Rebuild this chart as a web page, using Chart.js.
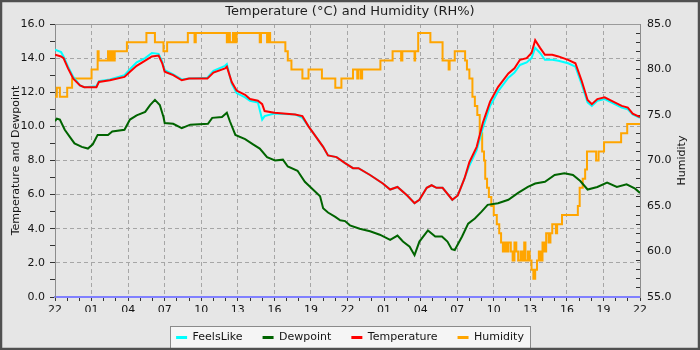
<!DOCTYPE html>
<html>
<head>
<meta charset="utf-8">
<script src="https://cdn.jsdelivr.net/npm/chart.js@4.4.1/dist/chart.umd.min.js"></script>
<style>
  html, body { margin: 0; padding: 0; background: #e6e6e6; }
</style>
</head>
<body>
<canvas id="weatherChart" width="700" height="350"></canvas>
<script>
// x positions are hours since 22:00 on the first day (48 h shown)
const hourLabels = ['22', '01', '04', '07', '10', '13', '16', '19', '22', '01', '04', '07', '10', '13', '16', '19', '22'];
const legendOrder = ['FeelsLike', 'Dewpoint', 'Temperature', 'Humidity'];

const tempHours = [0, 0.5, 0.7, 1.07, 1.5,
  2.05, 2.4, 3.4, 3.6, 4.5,
  5.7, 6.15, 6.7, 7.4, 7.95,
  8.5, 8.8, 9.0, 9.7, 10.4,
  11.0, 12.5, 13.0, 13.95, 14.1,
  14.5, 14.9, 15.6, 16.0, 16.65,
  17.0, 17.2, 18.0, 19.7, 20.3, 20.8,
  21.3, 22.0, 22.4, 23.1, 23.8,
  24.45, 24.9, 25.85, 26.9, 27.5,
  28.1, 28.9, 29.5, 29.9, 30.5,
  30.9, 31.3, 31.8, 32.6, 33.05,
  33.6, 34.0, 34.6, 35.1, 35.7,
  36.35, 37.2, 37.7, 38.15, 38.7,
  39.1, 39.4, 39.8, 40.2, 40.8,
  41.3, 42.1, 42.7, 43.2, 43.7,
  44.05, 44.5, 45.1, 45.8, 46.5,
  47.0, 47.4, 48.0];

const tempValues = [14.2, 14.1, 14.0, 13.4, 12.8,
  12.4, 12.3, 12.3, 12.6, 12.7,
  12.9, 13.2, 13.55, 13.85, 14.1,
  14.15, 13.7, 13.2, 13.0, 12.7,
  12.8, 12.8, 13.15, 13.4, 13.5,
  12.6, 12.1, 11.85, 11.6, 11.5,
  11.3, 10.9, 10.8, 10.7, 10.6, 10.0,
  9.5, 8.8, 8.3, 8.2, 7.85,
  7.55, 7.55, 7.15, 6.65, 6.3,
  6.45, 5.95, 5.5, 5.7, 6.4,
  6.55, 6.4, 6.4, 5.7, 5.95,
  6.95, 7.9, 8.8, 10.2, 11.45,
  12.3, 13.1, 13.4, 13.9, 14.0,
  14.3, 15.05, 14.6, 14.2, 14.2,
  14.1, 13.9, 13.7, 12.7, 11.55,
  11.3, 11.6, 11.7, 11.45, 11.2,
  11.1, 10.75, 10.55];

const feelsValues = [14.5, 14.35, 14.1, 13.5, 12.9,
  12.4, 12.3, 12.35, 12.65, 12.75,
  13.0, 13.35, 13.75, 14.0, 14.3,
  14.25, 13.8, 13.3, 13.05, 12.75,
  12.8, 12.85, 13.25, 13.55, 13.65,
  12.5, 11.95, 11.7, 11.5, 11.4,
  10.4, 10.6, 10.75, 10.7, 10.5, 10.0,
  9.5, 8.8, 8.3, 8.2, 7.85,
  7.55, 7.55, 7.15, 6.65, 6.3,
  6.45, 5.95, 5.5, 5.7, 6.4,
  6.55, 6.4, 6.4, 5.7, 5.95,
  6.95, 7.7, 8.6, 9.9, 11.2,
  12.05, 12.85, 13.15, 13.6, 13.75,
  14.0, 14.6, 14.3, 13.9, 13.9,
  13.85, 13.7, 13.5, 12.5, 11.4,
  11.2, 11.5, 11.6, 11.35, 11.1,
  11.0, 10.7, 10.5];

const dewHours = [0, 0.15, 0.4, 0.8, 1.2, 1.6, 2.2, 2.7, 3.1, 3.5,
  4.35, 4.7, 5.7, 6.15, 6.7, 7.4, 7.8, 8.2, 8.6, 8.9,
  9.0, 9.7, 10.4, 11.1, 12.55, 12.9, 13.7, 14.1, 14.35, 14.8,
  15.6, 16.25, 16.8, 17.4, 18.05, 18.7, 19.1, 19.9, 20.5, 21.1,
  21.75, 22.0, 22.4, 23.0, 23.4, 23.8, 24.2, 25.0, 25.85, 26.65,
  27.5, 28.1, 28.55, 29.1, 29.5, 29.9, 30.6, 31.2, 31.75, 32.2,
  32.55, 32.8, 33.4, 33.9, 34.45, 35.0, 35.5, 36.35, 37.2, 38.0,
  38.8, 39.4, 40.2, 41.0, 41.8, 42.5, 43.1, 43.7, 44.5, 45.3,
  46.1, 46.9, 47.6, 48.0];

const dewValues = [10.3, 10.45, 10.4, 9.8, 9.4, 9.0, 8.8, 8.7, 8.95, 9.5,
  9.5, 9.7, 9.8, 10.4, 10.65, 10.85, 11.25, 11.55, 11.25, 10.55,
  10.2, 10.15, 9.9, 10.1, 10.15, 10.5, 10.55, 10.8, 10.3, 9.5,
  9.25, 8.95, 8.7, 8.2, 8.0, 8.05, 7.65, 7.4, 6.75, 6.35,
  5.9, 5.2, 4.95, 4.7, 4.5, 4.45, 4.2, 4.0, 3.85, 3.65,
  3.35, 3.6, 3.25, 2.95, 2.45, 3.25, 3.9, 3.55, 3.55, 3.25,
  2.8, 2.75, 3.55, 4.3, 4.6, 5.0, 5.4, 5.5, 5.7, 6.1,
  6.45, 6.65, 6.75, 7.15, 7.25, 7.15, 6.8, 6.3, 6.45, 6.7,
  6.45, 6.6, 6.35, 6.1];

// humidity is a stepped series: each value holds until the next time
const humHours = [0, 0.15, 0.4, 1.0, 1.4, 3.0, 3.5, 3.58, 4.35, 4.45,
  4.6, 4.75, 4.9, 5.9, 7.5, 8.2, 8.9, 9.2, 10.9, 11.45,
  11.55, 14.1, 14.2, 14.35, 14.6, 14.75, 14.9, 16.8, 16.9, 17.4,
  17.5, 17.65, 18.9, 19.1, 19.4, 20.3, 20.8, 21.9, 23.0, 23.5,
  24.45, 24.8, 24.9, 25.1, 25.2, 26.7, 27.7, 28.4, 28.5, 29.5,
  29.55, 29.8, 30.8, 31.8, 32.3, 32.38, 32.8, 33.65, 33.8, 34.0,
  34.25, 34.45, 34.65, 34.85, 35.05, 35.2, 35.3, 35.45, 35.6, 35.8,
  36.0, 36.25, 36.45, 36.6, 36.75, 36.9, 37.05, 37.2, 37.4, 37.55,
  37.7, 37.85, 38.0, 38.2, 38.35, 38.5, 38.6, 38.8, 38.95, 39.1,
  39.25, 39.4, 39.55, 39.7, 39.85, 40.0, 40.15, 40.3, 40.5, 40.65,
  40.8, 41.1, 41.2, 41.6, 42.9, 43.05, 43.3, 43.5, 43.65, 44.4,
  44.6, 45.05, 46.45, 46.95, 48];

const humValues = [77, 78, 77, 78, 79, 80, 82, 81, 82, 81,
  82, 81, 82, 83, 84, 83, 82, 83, 84, 83,
  84, 83, 84, 83, 84, 83, 84, 83, 84, 83,
  84, 83, 82, 81, 80, 79, 80, 79, 78, 79,
  80, 79, 80, 79, 80, 81, 82, 81, 82, 81,
  82, 84, 83, 81, 80, 81, 82, 81, 80, 79,
  77, 76, 75, 73, 71, 70, 68, 67, 66, 65,
  64, 63, 62, 61, 60, 61, 60, 61, 60, 59,
  61, 60, 59, 60, 59, 61, 59, 60, 59, 58,
  57, 58, 59, 60, 59, 61, 60, 62, 61, 62,
  63, 62, 63, 64, 65, 67, 68, 69, 71, 70,
  71, 72, 73, 74, 74];

const toPoints = (hours, values) => hours.map((h, i) => ({ x: h, y: values[i] }));

const FONT = 'DejaVu Sans';
const TEXT = '#141414';
const GRID = '#a6a6a6';
const NONE = 'rgba(0,0,0,0)';

Chart.defaults.font.family = FONT;
Chart.defaults.font.size = 11;
Chart.defaults.color = TEXT;

// background, legend frame, top border, right axis title and outer border
const frame = {
  id: 'frame',
  beforeDraw(chart) {
    const { ctx, width, height } = chart;
    ctx.save();
    ctx.fillStyle = '#e6e6e6';
    ctx.fillRect(0, 0, width, height);
    const boxes = chart.legend && chart.legend.legendHitBoxes;
    if (boxes && boxes.length) {
      const left = Math.round(Math.min(...boxes.map(b => b.left)) - 6);
      const right = Math.round(Math.max(...boxes.map(b => b.left + b.width)) + 6);
      const top = Math.round(boxes[0].top + boxes[0].height / 2 - 12);
      ctx.fillStyle = '#f5f5f5';
      ctx.fillRect(left, top, right - left, 24);
      ctx.strokeStyle = '#8a8a8a';
      ctx.lineWidth = 1;
      ctx.strokeRect(left + 0.5, top + 0.5, right - left, 24);
    }
    ctx.restore();
  },
  afterDraw(chart) {
    const { ctx, width, height, chartArea: a } = chart;
    ctx.save();
    ctx.strokeStyle = '#9a9a9a';
    ctx.lineWidth = 1;
    ctx.beginPath();
    ctx.moveTo(a.left, Math.round(a.top) + 0.5);
    ctx.lineTo(a.right, Math.round(a.top) + 0.5);
    ctx.stroke();

    ctx.translate(a.right + 42, (a.top + a.bottom) / 2);
    ctx.rotate(-Math.PI / 2);
    ctx.fillStyle = TEXT;
    ctx.font = '11px ' + FONT;
    ctx.textAlign = 'center';
    ctx.textBaseline = 'middle';
    ctx.fillText('Humidity', 0, 0);
    ctx.setTransform(1, 0, 0, 1, 0, 0);

    ctx.strokeStyle = '#505050';
    ctx.lineWidth = 2.5;
    ctx.strokeRect(1, 1, width - 2, height - 2);
    ctx.restore();
  }
};

// the first dataset is drawn on top, so temperature comes first
new Chart(document.getElementById('weatherChart'), {
  type: 'line',
  data: {
    datasets: [
      { label: 'Temperature', data: toPoints(tempHours, tempValues), borderColor: '#ff0000', backgroundColor: '#ff0000' },
      { label: 'FeelsLike', data: toPoints(tempHours, feelsValues), borderColor: '#00ffff', backgroundColor: '#00ffff' },
      { label: 'Dewpoint', data: toPoints(dewHours, dewValues), borderColor: '#006400', backgroundColor: '#006400' },
      { label: 'Humidity', data: toPoints(humHours, humValues), borderColor: '#ffa500', backgroundColor: '#ffa500', yAxisID: 'y2', stepped: true }
    ]
  },
  options: {
    responsive: false,
    animation: false,
    devicePixelRatio: 1,
    layout: { padding: { left: 2, right: 2, top: 0, bottom: -3 } },
    elements: {
      point: { radius: 0 },
      line: { borderWidth: 2, tension: 0, fill: false }
    },
    plugins: {
      tooltip: { enabled: false },
      title: {
        display: true,
        text: 'Temperature (°C) and Humidity (RH%)',
        color: '#1e1e1e',
        font: { family: FONT, size: 13, weight: 'normal' },
        padding: { top: 4, bottom: 4.4 }
      },
      legend: {
        position: 'bottom',
        labels: {
          boxWidth: 11,
          boxHeight: 3,
          padding: 20,
          color: TEXT,
          font: { family: FONT, size: 11 },
          sort: (a, b) => legendOrder.indexOf(a.text) - legendOrder.indexOf(b.text),
          generateLabels: chart => Chart.defaults.plugins.legend.labels.generateLabels(chart)
            .map(item => ({ ...item, lineWidth: 0 }))
        }
      }
    },
    scales: {
      x: {
        type: 'linear',
        min: 0,
        max: 48,
        afterFit: s => { s.height = 56 - s.chart.legend.height; },
        ticks: {
          stepSize: 1,
          autoSkip: false,
          maxRotation: 0,
          padding: 3,
          callback: v => (v % 3 === 0 ? hourLabels[v / 3] : '')
        },
        grid: {
          color: c => (c.tick.value % 3 === 0 && c.tick.value > 0 && c.tick.value < 48) ? GRID : NONE,
          tickColor: '#333',
          tickLength: 4
        },
        border: { color: '#8080ff', width: 2, dash: [4, 3] }
      },
      y: {
        position: 'left',
        min: 0,
        max: 16,
        afterFit: s => { s.width = 53; },
        ticks: {
          stepSize: 1,
          autoSkip: false,
          padding: 5,
          callback: v => (v % 2 === 0 ? v.toFixed(1) : '')
        },
        grid: {
          color: c => (c.tick.value % 2 === 0 && c.tick.value > 0 && c.tick.value < 16) ? GRID : NONE,
          tickColor: '#333',
          tickLength: 5
        },
        border: { color: '#8c8c8c', width: 1, dash: [4, 3] },
        title: {
          display: true,
          text: 'Temperature and Dewpoint',
          color: TEXT,
          font: { family: FONT, size: 11 },
          padding: { top: 8, bottom: 0 }
        }
      },
      y2: {
        position: 'right',
        min: 55,
        max: 85,
        afterFit: s => { s.width = 58; },
        ticks: {
          stepSize: 1,
          autoSkip: false,
          padding: 11,
          callback: v => (v % 5 === 0 ? v.toFixed(1) : '')
        },
        grid: { drawOnChartArea: false, tickColor: '#333', tickLength: -4 },
        border: { color: '#8c8c8c', width: 1 }
      }
    }
  },
  plugins: [frame]
});
</script>
</body>
</html>
